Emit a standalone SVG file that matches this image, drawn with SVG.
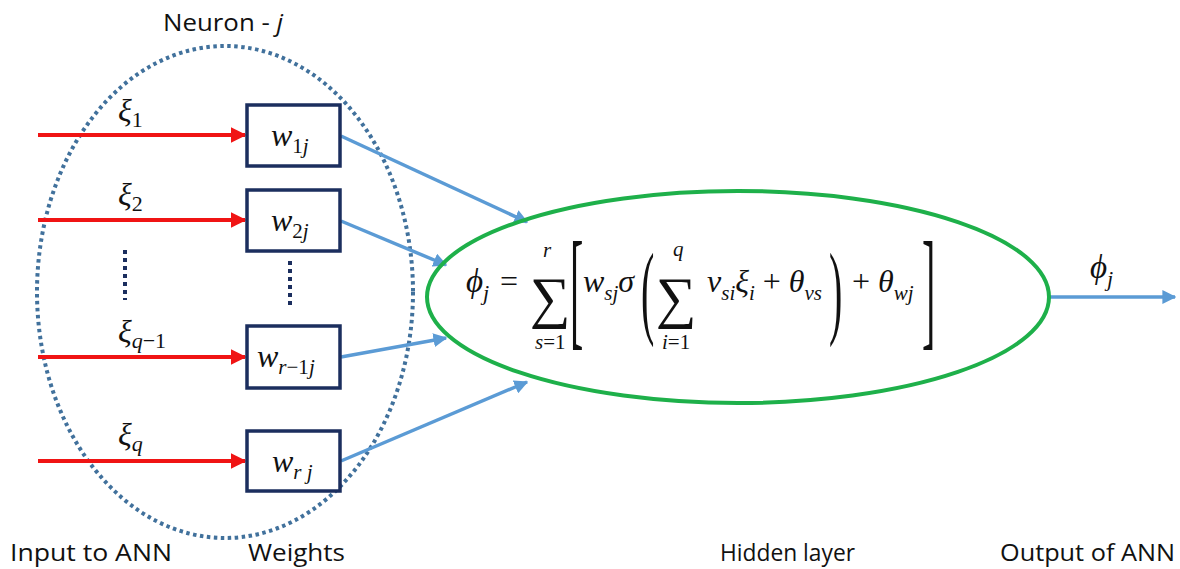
<svg xmlns="http://www.w3.org/2000/svg" width="1180" height="569" viewBox="0 0 1180 569">
<style>
.lbl{font-family:"Open Sans","Liberation Sans",sans-serif;font-size:23px;fill:#111}
.m{font-family:"Liberation Serif","DejaVu Serif",serif;font-style:italic;fill:#111}
.mu{font-family:"Liberation Serif","DejaVu Serif",serif;fill:#111}
.box{fill:#fff;stroke:#1b2e5e;stroke-width:3.5}
.red{stroke:#f01414;stroke-width:4;fill:none}
.blue{stroke:#5b9bd5;stroke-width:3.5;fill:none}
.dots{stroke:#1b2e5e;stroke-width:4;stroke-dasharray:4 4;fill:none}
</style>
<defs>
<marker id="ar" viewBox="0 0 10 10" refX="9" refY="5" markerWidth="4" markerHeight="4" orient="auto" markerUnits="strokeWidth"><path d="M0,0 L10,5 L0,10 z" fill="#f01414"/></marker>
<marker id="ab" viewBox="0 0 10 10" refX="9" refY="5" markerWidth="4" markerHeight="4" orient="auto" markerUnits="strokeWidth"><path d="M0,0 L10,5 L0,10 z" fill="#5b9bd5"/></marker>
</defs>
<rect width="1180" height="569" fill="#fff"/>
<g id="neuron">
<ellipse cx="225" cy="292" rx="188" ry="246" fill="none" stroke="#41719c" stroke-width="4" stroke-dasharray="3.5 3.5"/>
<text x="163" y="31" class="lbl" textLength="120" lengthAdjust="spacingAndGlyphs">Neuron - <tspan font-style="italic">j</tspan></text>
</g>
<g id="connectors">
<line class="red" x1="38" y1="135" x2="245" y2="135" marker-end="url(#ar)"/>
<line class="red" x1="38" y1="220" x2="245" y2="220" marker-end="url(#ar)"/>
<line class="red" x1="38" y1="357" x2="245" y2="357" marker-end="url(#ar)"/>
<line class="red" x1="38" y1="461" x2="245" y2="461" marker-end="url(#ar)"/>
<line class="blue" x1="341" y1="136" x2="527" y2="222" marker-end="url(#ab)"/>
<line class="blue" x1="341" y1="221" x2="446" y2="265" marker-end="url(#ab)"/>
<line class="blue" x1="341" y1="357" x2="446" y2="338" marker-end="url(#ab)"/>
<line class="blue" x1="341" y1="461" x2="527" y2="382" marker-end="url(#ab)"/>
<line class="blue" x1="1050" y1="297" x2="1175" y2="297" marker-end="url(#ab)"/>
<line class="dots" x1="125" y1="250" x2="125" y2="300"/>
<line class="dots" x1="290" y1="261" x2="290" y2="307"/>
</g>
<g id="inputs">
<text x="118" y="121" class="m" font-size="32">ξ<tspan class="mu" font-size="22" font-style="normal" dy="6">1</tspan></text>
<text x="118" y="205" class="m" font-size="32">ξ<tspan class="mu" font-size="22" font-style="normal" dy="6">2</tspan></text>
<text x="118" y="342" class="m" font-size="32">ξ<tspan font-size="22" dy="6">q</tspan><tspan class="mu" font-size="22" font-style="normal">−1</tspan></text>
<text x="118" y="445" class="m" font-size="32">ξ<tspan font-size="22" dy="6">q</tspan></text>
</g>
<g id="w1"><rect class="box" x="247" y="105" width="93" height="61"/><text x="271" y="146" class="m" font-size="32">w<tspan font-size="21" dy="7"><tspan class="mu" font-style="normal">1</tspan>j</tspan></text></g>
<g id="w2"><rect class="box" x="247" y="190" width="93" height="61"/><text x="271" y="231" class="m" font-size="32">w<tspan font-size="21" dy="7"><tspan class="mu" font-style="normal">2</tspan>j</tspan></text></g>
<g id="wr1"><rect class="box" x="247" y="326" width="93" height="62"/><text x="257" y="367" class="m" font-size="32">w<tspan font-size="21" dy="7">r<tspan class="mu" font-style="normal">−1</tspan>j</tspan></text></g>
<g id="wr"><rect class="box" x="247" y="431" width="93" height="60"/><text x="272" y="472" class="m" font-size="32">w<tspan font-size="21" dy="7">r j</tspan></text></g>
<g id="hidden">
<ellipse cx="738" cy="297" rx="311" ry="106" fill="none" stroke="#1eb04a" stroke-width="4"/>
<text x="466" y="292" class="m" font-size="33">ϕ<tspan font-size="22" dy="8">j</tspan></text>
<text x="500" y="292" class="mu" font-size="32">=</text>
<text x="530" y="317" class="mu" font-size="57" font-family="DejaVu Serif">∑</text>
<text x="543" y="257" class="m" font-size="21">r</text>
<text x="535" y="349" class="mu" font-size="21"><tspan font-style="italic">s</tspan>=1</text>
<text transform="translate(570,332) scale(1,3.3)" class="mu" font-size="40">[</text>
<text x="583" y="292" class="m" font-size="32">w<tspan font-size="21" dy="8">sj</tspan><tspan font-size="32" dy="-8">σ</tspan></text>
<text transform="translate(641,325) scale(1,2.6)" class="mu" font-size="40">(</text>
<text x="656" y="317" class="mu" font-size="57" font-family="DejaVu Serif">∑</text>
<text x="673" y="256" class="m" font-size="21">q</text>
<text x="662" y="349" class="mu" font-size="21"><tspan font-style="italic">i</tspan>=1</text>
<text x="707" y="292" class="m" font-size="32">v<tspan font-size="21" dy="8">si</tspan><tspan font-size="32" dy="-8">ξ</tspan><tspan font-size="21" dy="8">i</tspan><tspan font-size="32" dy="-8" font-style="normal"> + </tspan><tspan font-size="32">θ</tspan><tspan font-size="21" dy="8">vs</tspan></text>
<text transform="translate(829,325) scale(1,2.6)" class="mu" font-size="40">)</text>
<text x="852" y="292" class="m" font-size="32"><tspan font-style="normal">+ </tspan>θ<tspan font-size="21" dy="8">wj</tspan></text>
<text transform="translate(922,332) scale(1,3.3)" class="mu" font-size="40">]</text>
</g>
<g id="output">
<text x="1090" y="278" class="m" font-size="33">ϕ<tspan font-size="22" dy="8">j</tspan></text>
</g>
<g id="labels">
<text x="10" y="561" class="lbl" textLength="162" lengthAdjust="spacingAndGlyphs">Input to ANN</text>
<text x="248" y="561" class="lbl" textLength="97" lengthAdjust="spacingAndGlyphs">Weights</text>
<text x="720" y="561" class="lbl" textLength="135" lengthAdjust="spacingAndGlyphs">Hidden layer</text>
<text x="1000" y="561" class="lbl" textLength="175" lengthAdjust="spacingAndGlyphs">Output of ANN</text>
</g>
</svg>
